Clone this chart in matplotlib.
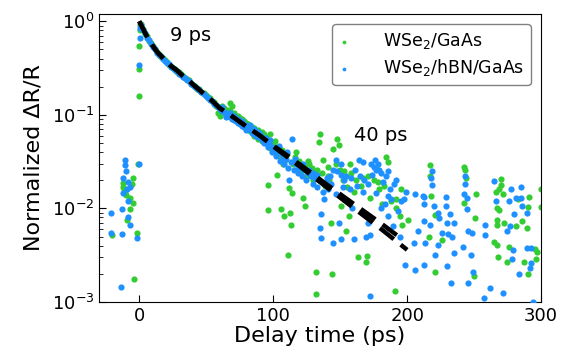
import matplotlib
matplotlib.use("Agg")
import matplotlib.pyplot as plt

# ---------------- data ----------------
green_t = [-20, -12, -12, -11.5, -10.5, -9.5, -9, -7, -7, -5, -4.5, -4.5, -3.7, -1.7, -0.7,
           -0.5, -0.3, 0, 0.3, 0.5,
           1.5, 3, 4.5, 6, 7.5, 9, 10.5, 12, 13.5, 15, 16.5, 18, 19.5, 21, 22.5, 24, 25.5, 27,
           28.5, 30, 31.5, 33, 34.5, 36, 37.5, 39, 40.5, 42, 43.5, 45, 46.5, 48, 49.5, 51, 52.5,
           54, 55.5, 57, 58.5, 60, 61.5, 63, 64.5, 66, 67.5, 69, 70.5, 72, 73.5, 75, 76.5, 78,
           79.5, 81, 82.5, 84, 85.5, 87, 88.5, 90, 91.5, 93, 94.5, 96, 96.4, 97.5, 98, 99, 100.5,
           102, 103, 104, 105.6, 106.5, 108, 109, 110.5, 111, 112, 112.6, 113.6, 114, 115, 116.5,
           118, 119.5, 121, 122.6, 123.6, 124, 125.5, 127, 128.5, 130, 131.8, 131.8, 133, 134.5,
           135, 136.5, 138, 139, 140.6, 142, 143, 144, 145, 148, 148.8, 149.8, 150.6, 152, 154.3,
           155, 156.8, 158, 160, 163, 165.5, 167, 169.2, 169.7, 172, 175, 176.8, 179.3, 181, 183,
           184.2, 186, 188, 191.2, 191.8, 191.8, 194.3, 195.5, 196.3, 200.5,
           216, 216.7, 217.2, 217.5, 220.5, 221, 226, 242.4, 243.5, 244.2, 251.7, 242.4, 251,
           250, 270.4, 269.9, 268.4, 266, 271.6, 266.7, 268.4, 267.4, 272.4, 264.9, 266.7, 267.9,
           274.9, 276.1, 281.6, 285.8, 289.1, 283, 290.8, 290.3, 287.3, 290.3, 295.3, 296.6,
           296.1, 299.8, 299.6, 267.4,
           62, 68, 71, 74, 77, 80, 86, 89, 92, 95, 101, 107, 117, 126, 129, 137, 141, 147, 153,
           157, 162, 171, 178]
green_v = [0.0052, 0.0185, 0.017, 0.016, 0.0145, 0.0138, 0.0075, 0.0128, 0.0098, 0.018, 0.021,
           0.0115, 0.00175, 0.0055, 0.030,
           0.157, 0.31, 0.54, 0.80, 0.92,
           0.93, 0.83, 0.74, 0.69, 0.62, 0.58, 0.54, 0.51, 0.47, 0.45, 0.42, 0.41, 0.39, 0.37,
           0.345, 0.335, 0.32, 0.31, 0.29, 0.285, 0.27, 0.26, 0.25, 0.24, 0.235, 0.22, 0.21,
           0.205, 0.19, 0.188, 0.176, 0.17, 0.162, 0.155, 0.15, 0.14, 0.136, 0.125, 0.104, 0.097,
           0.115, 0.118, 0.105, 0.112, 0.135, 0.125, 0.092, 0.098, 0.088, 0.092, 0.078, 0.085,
           0.072, 0.08, 0.067, 0.075, 0.06, 0.065, 0.068, 0.058, 0.052, 0.062, 0.05, 0.0176,
           0.0095, 0.044, 0.062, 0.05, 0.04, 0.045, 0.023, 0.036, 0.0098, 0.042, 0.0083, 0.033,
           0.038, 0.0032, 0.0166, 0.009, 0.0066, 0.0147, 0.03, 0.035, 0.026, 0.032, 0.025, 0.013,
           0.0106, 0.028, 0.022, 0.03, 0.024, 0.02, 0.0021, 0.0012, 0.026, 0.0513, 0.062, 0.024,
           0.018, 0.0174, 0.028, 0.02, 0.007, 0.002, 0.043, 0.055, 0.048, 0.026, 0.0106, 0.02,
           0.0057, 0.017, 0.0083, 0.024, 0.015, 0.003, 0.0174, 0.021, 0.0027, 0.0031, 0.013,
           0.02, 0.027, 0.016, 0.011, 0.0174, 0.035, 0.031, 0.012, 0.0013, 0.0102, 0.0125,
           0.0083, 0.016, 0.0066, 0.0076,
           0.005, 0.022, 0.029, 0.0136, 0.0085, 0.0021, 0.0046, 0.028, 0.026, 0.0213, 0.0144,
           0.0113, 0.0078, 0.0019, 0.0206, 0.0177, 0.016, 0.015, 0.0141, 0.0102, 0.0095, 0.0067,
           0.0069, 0.0044, 0.0041, 0.0030, 0.0027, 0.0039, 0.0065, 0.0073, 0.0061, 0.0126,
           0.0133, 0.0103, 0.0027, 0.0020, 0.0037, 0.0034, 0.0029, 0.016, 0.0104, 0.0076,
           0.125, 0.11, 0.105, 0.098, 0.09, 0.082, 0.072, 0.055, 0.066, 0.058, 0.052, 0.03, 0.04,
           0.032, 0.027, 0.033, 0.022, 0.03, 0.025, 0.03, 0.02, 0.022, 0.019]

blue_t = [-21, -21, -13.7, -13, -13, -12, -12, -10.7, -10.7, -9.5, -9, -8.5, -8, -8, -7, -7,
          -1.3, -0.5, 0, 0.4, 0.6,
          1.5, 3, 4.5, 6, 7.5, 9, 10.5, 12, 13.5, 15, 16.5, 18, 19.5, 21, 22.5, 24, 25.5, 27,
          28.5, 30, 31.5, 33, 34.5, 36, 37.5, 39, 40.5, 42, 43.5, 45, 46.5, 48, 49.5, 51, 52.5,
          54, 55.5, 57, 58.5, 60, 61.5, 63, 64.5, 66, 67.5, 69, 70.5, 72, 73.5, 75, 76.5, 78,
          79.5, 81, 82.5, 84, 85.5, 87, 88.5, 90, 91.5, 93, 94.5, 96, 97.5, 99, 100.5, 102,
          103.5, 105, 106.5, 108, 109.5, 111, 112, 113, 114, 115.5, 117, 118.5, 120, 121.5, 123,
          124.5, 126, 128.1, 129.5, 131, 132.5, 134, 135, 135.4, 136, 137, 138, 139.5, 141,
          142.5, 144.3, 146.8, 146.8, 148, 149.3, 150.6, 150.6, 152, 154.3, 156, 157.3, 159,
          160.6, 162.3, 164.3, 166.8, 168, 169.2, 170.8, 172, 172.5, 174, 175.5, 176.8, 177, 178,
          179.3, 180.6, 180.6, 182, 183.5, 185.5, 185.5, 187, 188, 189.2, 190.5, 193, 194.8,
          195.5, 197.3, 198.5, 205.5, 212.3, 208, 204.8, 213.3, 206,
          218.6, 217.9, 218.4, 211.7, 212.5, 212.5, 216.7, 219.7, 222.9, 223.5, 228.7, 228.7, 230,
          231.8, 235, 230.5, 233.4, 225.9, 223.4, 220.9, 212.5, 230, 234.8, 233, 243, 243, 242.4,
          244.9, 244.9, 241.7, 245.6, 248.6, 247.4, 249.4, 245.6, 257.9, 257.9, 261.6, 257.4,
          264.9, 266, 271.6, 274.9, 276.6, 275.9, 277.8, 279.8, 281.6, 284.8, 285.3, 286, 289.1,
          279.3, 278.5, 289.8, 292.8, 292.8, 291.5, 283.5, 293.7,
          62, 65, 68, 71, 74, 77, 80, 83, 86, 89, 92, 95, 98, 101, 104, 107, 110, 116, 119, 122,
          127, 130, 133, 140, 143, 145, 151, 153, 158, 161, 165, 167, 171, 173, 176, 184, 186,
          192, 199]
blue_v = [0.0089, 0.0055, 0.00145, 0.0098, 0.0053, 0.021, 0.0145, 0.033, 0.029, 0.025, 0.016,
          0.008, 0.019, 0.012, 0.017, 0.0066,
          0.0048, 0.030, 0.34, 0.66, 0.84,
          0.92, 0.81, 0.75, 0.67, 0.63, 0.57, 0.53, 0.5, 0.46, 0.44, 0.425, 0.395, 0.38, 0.36,
          0.35, 0.325, 0.315, 0.3, 0.295, 0.275, 0.265, 0.255, 0.245, 0.235, 0.23, 0.215, 0.21,
          0.2, 0.195, 0.182, 0.175, 0.165, 0.16, 0.15, 0.145, 0.14, 0.13, 0.128, 0.12, 0.115,
          0.11, 0.107, 0.1, 0.104, 0.095, 0.09, 0.096, 0.085, 0.09, 0.08, 0.085, 0.074, 0.078,
          0.07, 0.072, 0.064, 0.07, 0.06, 0.058, 0.062, 0.054, 0.05, 0.056, 0.045, 0.048, 0.04,
          0.044, 0.036, 0.041, 0.032, 0.038, 0.03, 0.034, 0.027, 0.02, 0.031, 0.055, 0.026,
          0.03, 0.024, 0.028, 0.022, 0.026, 0.02, 0.024, 0.022, 0.018, 0.021, 0.017, 0.02,
          0.0062, 0.0048, 0.0087, 0.015, 0.0126, 0.019, 0.016, 0.022, 0.0043, 0.033, 0.0141,
          0.025, 0.007, 0.023, 0.0047, 0.017, 0.022, 0.012, 0.016, 0.01, 0.0047, 0.0174, 0.033,
          0.031, 0.02, 0.005, 0.007, 0.0052, 0.00115, 0.023, 0.028, 0.0147, 0.026, 0.03, 0.026,
          0.024, 0.0102, 0.019, 0.011, 0.0136, 0.0083, 0.016, 0.0125, 0.0065, 0.018, 0.0093,
          0.005, 0.012, 0.0125, 0.0025, 0.0141, 0.0133, 0.0057, 0.0043, 0.0043, 0.0022,
          0.025, 0.0213, 0.0177, 0.0136, 0.011, 0.0073, 0.0066, 0.0106, 0.009, 0.0078, 0.0133,
          0.0106, 0.007, 0.0087, 0.0069, 0.0053, 0.005, 0.0055, 0.0041, 0.0032, 0.0025, 0.0024,
          0.0033, 0.0016, 0.022, 0.0181, 0.0141, 0.013, 0.0098, 0.0039, 0.0057, 0.0055, 0.0032,
          0.0021, 0.0016, 0.0067, 0.0052, 0.0014, 0.0011, 0.0195, 0.012, 0.00125, 0.0057,
          0.0065, 0.012, 0.016, 0.0087, 0.013, 0.017, 0.013, 0.0106, 0.009, 0.0036, 0.0029,
          0.0038, 0.0038, 0.0026, 0.0023, 0.0020, 0.0010,
          0.12, 0.095, 0.105, 0.088, 0.082, 0.076, 0.068, 0.078, 0.062, 0.066, 0.058, 0.05,
          0.054, 0.042, 0.046, 0.034, 0.04, 0.034, 0.027, 0.03, 0.026, 0.024, 0.023, 0.021,
          0.018, 0.026, 0.03, 0.02, 0.021, 0.026, 0.022, 0.015, 0.018, 0.03, 0.033, 0.022,
          0.025, 0.02, 0.015]

fit1_t = [0, 2, 4, 6, 8, 10, 12, 14, 16, 18, 20, 24, 28, 32, 36, 40, 45, 50, 55, 60, 65, 70,
          80, 90, 100, 120, 140, 160, 180, 200]
fit1_v = [1.0, 0.88, 0.77, 0.68, 0.61, 0.55, 0.50, 0.46, 0.43, 0.40, 0.375, 0.33, 0.30, 0.265,
          0.24, 0.212, 0.184, 0.16, 0.139, 0.118, 0.106, 0.095, 0.075, 0.060, 0.046, 0.028,
          0.0168, 0.0101, 0.0061, 0.0036]
fit2_t = [0, 2, 4, 6, 8, 10, 12, 14, 16, 18, 20, 24, 28, 32, 36, 40, 45, 50, 55, 60, 65, 70,
          80, 90, 100, 120, 140, 160, 180, 197]
fit2_v = [1.0, 0.88, 0.77, 0.68, 0.61, 0.55, 0.50, 0.46, 0.43, 0.40, 0.375, 0.33, 0.30, 0.265,
          0.24, 0.212, 0.184, 0.16, 0.139, 0.118, 0.106, 0.095, 0.075, 0.060, 0.047, 0.0295,
          0.0180, 0.0112, 0.0070, 0.0046]

labels = ["WSe$_2$/GaAs", "WSe$_2$/hBN/GaAs"]
green = "#33cc33"
blue = "#1e90ff"

# ---------------- figure ----------------
fig = plt.figure(figsize=(5.69, 3.56), dpi=100)
ax = fig.add_axes([0.174, 0.152, 0.777, 0.809])

ax.scatter(green_t, green_v, s=20, color=green, label=labels[0], linewidths=0, zorder=2)
ax.scatter(blue_t, blue_v, s=20, color=blue, label=labels[1], linewidths=0, zorder=3)
ax.plot(fit1_t, fit1_v, color="black", lw=3.2, ls=(0, (4, 2)), zorder=4)
ax.plot(fit2_t, fit2_v, color="black", lw=3.2, ls=(0, (4, 2)), zorder=4)

ax.set_yscale("log")
ax.set_xlim(-30, 300)
ax.set_ylim(1e-3, 1.2)
ax.set_xticks([0, 100, 200, 300])

ax.tick_params(which="both", direction="in", labelsize=13)
ax.tick_params(which="major", length=5)
ax.tick_params(which="minor", length=3)

ax.set_xlabel("Delay time (ps)", fontsize=16, labelpad=1)
ax.set_ylabel("Normalized ΔR/R", fontsize=16, labelpad=6)

ax.text(38, 0.71, "9 ps", fontsize=14, ha="center", va="center")
ax.text(180.5, 0.060, "40 ps", fontsize=14, ha="center", va="center")

leg = ax.legend(loc="upper right", fontsize=12.5, markerscale=0.6, handlelength=0.6,
                handletextpad=1.9, labelspacing=0.35,
                frameon=True, fancybox=True, edgecolor="gray", framealpha=1,
                borderaxespad=0.6)

fig.savefig("out.png", dpi=100)
